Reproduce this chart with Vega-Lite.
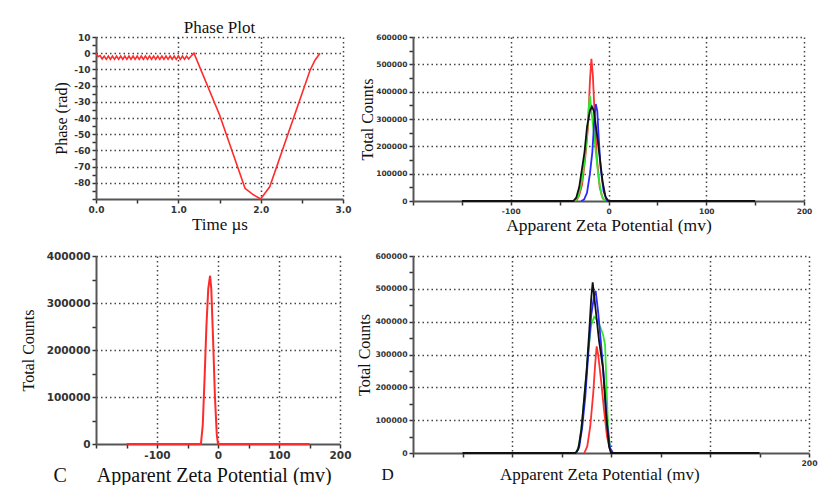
{
  "$schema": "https://vega.github.io/schema/vega-lite/v6.json",
  "background": "white",
  "padding": {"left": 20, "top": 19, "right": 0, "bottom": 0},
  "columns": 2,
  "align": "each",
  "spacing": {"row": 17, "column": 5},
  "datasets": {
    "phase": [
      {"t": 0, "p": 0}, {"t": 0.025, "p": -2.2}, {"t": 0.05, "p": -1.5}, {"t": 0.075, "p": -3.6},
      {"t": 0.1, "p": -1.8}, {"t": 0.125, "p": -3.8}, {"t": 0.15, "p": -1.8}, {"t": 0.175, "p": -3.8},
      {"t": 0.2, "p": -1.8}, {"t": 0.225, "p": -3.8}, {"t": 0.25, "p": -1.8}, {"t": 0.275, "p": -3.8},
      {"t": 0.3, "p": -1.8}, {"t": 0.325, "p": -3.8}, {"t": 0.35, "p": -1.8}, {"t": 0.375, "p": -3.8},
      {"t": 0.4, "p": -1.8}, {"t": 0.425, "p": -3.8}, {"t": 0.45, "p": -1.8}, {"t": 0.475, "p": -3.8},
      {"t": 0.5, "p": -1.8}, {"t": 0.525, "p": -3.8}, {"t": 0.55, "p": -1.8}, {"t": 0.575, "p": -3.8},
      {"t": 0.6, "p": -1.8}, {"t": 0.625, "p": -3.8}, {"t": 0.65, "p": -1.8}, {"t": 0.675, "p": -3.8},
      {"t": 0.7, "p": -1.8}, {"t": 0.725, "p": -3.8}, {"t": 0.75, "p": -1.8}, {"t": 0.775, "p": -3.8},
      {"t": 0.8, "p": -1.8}, {"t": 0.825, "p": -3.8}, {"t": 0.85, "p": -1.8}, {"t": 0.875, "p": -3.8},
      {"t": 0.9, "p": -1.8}, {"t": 0.925, "p": -3.8}, {"t": 0.95, "p": -1.8}, {"t": 0.975, "p": -3.8},
      {"t": 1.0, "p": -1.8}, {"t": 1.025, "p": -3.8}, {"t": 1.05, "p": -1.8}, {"t": 1.075, "p": -3.8},
      {"t": 1.1, "p": -1.8}, {"t": 1.125, "p": -3.6}, {"t": 1.15, "p": -2}, {"t": 1.17, "p": -1},
      {"t": 1.19, "p": 0}, {"t": 1.5, "p": -38}, {"t": 1.81, "p": -83.4}, {"t": 1.9, "p": -87},
      {"t": 2.0, "p": -90}, {"t": 2.11, "p": -82.5}, {"t": 2.6, "p": -10.5}, {"t": 2.66, "p": -4.3},
      {"t": 2.72, "p": 0}
    ],
    "zetaB": [
      {"s": "red", "x": -33, "y": 0}, {"s": "red", "x": -30, "y": 20000}, {"s": "red", "x": -27, "y": 60000},
      {"s": "red", "x": -24, "y": 150000}, {"s": "red", "x": -21, "y": 270000}, {"s": "red", "x": -19, "y": 440000},
      {"s": "red", "x": -17.5, "y": 520000}, {"s": "red", "x": -16, "y": 460000}, {"s": "red", "x": -14, "y": 300000},
      {"s": "red", "x": -12, "y": 160000}, {"s": "red", "x": -9, "y": 50000}, {"s": "red", "x": -6, "y": 10000},
      {"s": "red", "x": -3, "y": 0},
      {"s": "green", "x": -34, "y": 0}, {"s": "green", "x": -31, "y": 15000}, {"s": "green", "x": -28, "y": 60000},
      {"s": "green", "x": -25, "y": 130000}, {"s": "green", "x": -22, "y": 240000}, {"s": "green", "x": -20, "y": 350000},
      {"s": "green", "x": -19, "y": 385000}, {"s": "green", "x": -17.5, "y": 330000}, {"s": "green", "x": -15, "y": 250000},
      {"s": "green", "x": -13, "y": 180000}, {"s": "green", "x": -10, "y": 80000}, {"s": "green", "x": -7, "y": 20000},
      {"s": "green", "x": -4, "y": 0},
      {"s": "blue", "x": -28, "y": 0}, {"s": "blue", "x": -25, "y": 5000}, {"s": "blue", "x": -22, "y": 30000},
      {"s": "blue", "x": -19, "y": 100000}, {"s": "blue", "x": -16.5, "y": 180000}, {"s": "blue", "x": -14.5, "y": 300000},
      {"s": "blue", "x": -13, "y": 355000}, {"s": "blue", "x": -11.5, "y": 330000}, {"s": "blue", "x": -10, "y": 230000},
      {"s": "blue", "x": -8, "y": 120000}, {"s": "blue", "x": -5, "y": 35000}, {"s": "blue", "x": -2, "y": 5000},
      {"s": "blue", "x": 0, "y": 0},
      {"s": "black", "x": -150, "y": 0}, {"s": "black", "x": -36, "y": 0}, {"s": "black", "x": -33, "y": 12000},
      {"s": "black", "x": -30, "y": 50000}, {"s": "black", "x": -27, "y": 120000}, {"s": "black", "x": -24.5, "y": 180000},
      {"s": "black", "x": -22, "y": 270000}, {"s": "black", "x": -19, "y": 330000}, {"s": "black", "x": -17, "y": 345000},
      {"s": "black", "x": -15, "y": 330000}, {"s": "black", "x": -12, "y": 250000}, {"s": "black", "x": -9, "y": 160000},
      {"s": "black", "x": -6, "y": 70000}, {"s": "black", "x": -3, "y": 15000}, {"s": "black", "x": 0, "y": 0},
      {"s": "black", "x": 150, "y": 0}
    ],
    "zetaC": [
      {"x": -150, "y": 0}, {"x": -28, "y": 0}, {"x": -25, "y": 40000}, {"x": -22, "y": 140000},
      {"x": -19, "y": 250000}, {"x": -16, "y": 330000}, {"x": -13, "y": 358000}, {"x": -11, "y": 330000},
      {"x": -8, "y": 220000}, {"x": -5, "y": 100000}, {"x": -2, "y": 20000}, {"x": 0, "y": 0}, {"x": 150, "y": 0}
    ],
    "zetaD": [
      {"s": "red", "x": -27, "y": 0}, {"s": "red", "x": -24, "y": 20000}, {"s": "red", "x": -21, "y": 80000},
      {"s": "red", "x": -18, "y": 180000}, {"s": "red", "x": -16, "y": 270000}, {"s": "red", "x": -14.5, "y": 325000},
      {"s": "red", "x": -13, "y": 300000}, {"s": "red", "x": -10, "y": 220000}, {"s": "red", "x": -7, "y": 130000},
      {"s": "red", "x": -4, "y": 50000}, {"s": "red", "x": -1, "y": 10000}, {"s": "red", "x": 1, "y": 0},
      {"s": "green", "x": -35, "y": 0}, {"s": "green", "x": -32, "y": 30000}, {"s": "green", "x": -29, "y": 100000},
      {"s": "green", "x": -26, "y": 200000}, {"s": "green", "x": -23, "y": 310000}, {"s": "green", "x": -20, "y": 390000},
      {"s": "green", "x": -17, "y": 415000}, {"s": "green", "x": -14, "y": 405000}, {"s": "green", "x": -11, "y": 385000},
      {"s": "green", "x": -8, "y": 360000}, {"s": "green", "x": -6, "y": 330000}, {"s": "green", "x": -4.5, "y": 200000},
      {"s": "green", "x": -3, "y": 80000}, {"s": "green", "x": -1, "y": 15000}, {"s": "green", "x": 1, "y": 0},
      {"s": "blue", "x": -35, "y": 0}, {"s": "blue", "x": -32, "y": 20000}, {"s": "blue", "x": -29, "y": 80000},
      {"s": "blue", "x": -26, "y": 170000}, {"s": "blue", "x": -23, "y": 300000}, {"s": "blue", "x": -20, "y": 420000},
      {"s": "blue", "x": -17, "y": 480000}, {"s": "blue", "x": -15.5, "y": 494000}, {"s": "blue", "x": -13, "y": 430000},
      {"s": "blue", "x": -10, "y": 330000}, {"s": "blue", "x": -7, "y": 220000}, {"s": "blue", "x": -4, "y": 90000},
      {"s": "blue", "x": -1, "y": 15000}, {"s": "blue", "x": 2, "y": 0},
      {"s": "black", "x": -150, "y": 0}, {"s": "black", "x": -36, "y": 0}, {"s": "black", "x": -33, "y": 12000},
      {"s": "black", "x": -30, "y": 70000}, {"s": "black", "x": -27, "y": 170000}, {"s": "black", "x": -24.5, "y": 256000},
      {"s": "black", "x": -22, "y": 370000}, {"s": "black", "x": -20, "y": 470000}, {"s": "black", "x": -18.5, "y": 520000},
      {"s": "black", "x": -16, "y": 450000}, {"s": "black", "x": -12, "y": 340000}, {"s": "black", "x": -8, "y": 256000},
      {"s": "black", "x": -5, "y": 120000}, {"s": "black", "x": -2, "y": 20000}, {"s": "black", "x": 0, "y": 0},
      {"s": "black", "x": 150, "y": 0}
    ]
  },
  "concat": [
    {
      "width": 247,
      "height": 162,
      "title": {"text": "Phase Plot", "font": "Liberation Serif", "fontSize": 17, "fontWeight": "normal", "color": "#111", "offset": -4},
      "data": {"name": "phase"},
      "mark": {"type": "line", "color": "#ff2a2a", "strokeWidth": 1.6},
      "encoding": {
        "x": {
          "field": "t", "type": "quantitative",
          "scale": {"domain": [0, 3], "nice": false, "zero": false},
          "axis": {
            "title": "Time µs", "titleFontSize": 17, "titlePadding": 2,
            "values": [0, 0.5, 1, 1.5, 2, 2.5, 3], "format": ".1f",
            "labelExpr": "datum.value % 1 === 0 ? datum.label : ''",
            "labelFontSize": 9,
            "gridOpacity": {"condition": {"test": "datum.value % 1 !== 0 || datum.value === 0", "value": 0}, "value": 1}
          }
        },
        "y": {
          "field": "p", "type": "quantitative",
          "scale": {"domain": [-90, 10], "nice": false, "zero": false},
          "axis": {
            "title": "Phase (rad)", "titleFontSize": 16, "titlePadding": 4,
            "values": [-90, -85, -80, -75, -70, -65, -60, -55, -50, -45, -40, -35, -30, -25, -20, -15, -10, -5, 0, 5, 10],
            "labelExpr": "datum.value % 10 === 0 && datum.value > -90 ? replace(datum.label, '\u2212', '-') : ''",
            "labelFontSize": 9,
            "gridOpacity": {"condition": {"test": "datum.value % 10 !== 0 || datum.value === -90", "value": 0}, "value": 1}
          }
        }
      }
    },
    {
      "width": 391,
      "height": 164,
      "data": {"name": "zetaB"},
      "mark": {"type": "line", "strokeWidth": 1.8},
      "encoding": {
        "x": {
          "field": "x", "type": "quantitative",
          "scale": {"domain": [-200, 200], "nice": false},
          "axis": {
            "title": "Apparent Zeta Potential (mv)", "titleFontSize": 17.5, "titlePadding": 2,
            "values": [-200, -150, -100, -50, 0, 50, 100, 150, 200],
            "labelExpr": "datum.value % 100 === 0 && datum.value > -200 ? replace(datum.label, '\u2212', '-') : ''",
            "labelFontSize": 7.5,
            "gridOpacity": {"condition": {"test": "datum.value % 100 !== 0 || datum.value === -200", "value": 0}, "value": 1}
          }
        },
        "y": {
          "field": "y", "type": "quantitative",
          "scale": {"domain": [0, 600000], "nice": false},
          "axis": {
            "title": "Total Counts", "titleFontSize": 16, "titlePadding": 0,
            "values": [0, 50000, 100000, 150000, 200000, 250000, 300000, 350000, 400000, 450000, 500000, 550000, 600000],
            "format": "d",
            "labelExpr": "datum.value % 100000 === 0 ? datum.label : ''",
            "labelFontSize": 7.5,
            "gridOpacity": {"condition": {"test": "datum.value % 100000 !== 0 || datum.value === 0", "value": 0}, "value": 1}
          }
        },
        "color": {
          "field": "s", "type": "nominal", "legend": null,
          "scale": {"domain": ["red", "green", "blue", "black"], "range": ["#ff3030", "#30e830", "#2a2aff", "#111111"]}
        }
      }
    },
    {
      "width": 244,
      "height": 188,
      "data": {"name": "zetaC"},
      "mark": {"type": "line", "color": "#ff2a2a", "strokeWidth": 2},
      "encoding": {
        "x": {
          "field": "x", "type": "quantitative",
          "scale": {"domain": [-200, 200], "nice": false},
          "axis": {
            "title": "C\u00a0\u00a0\u00a0\u00a0\u00a0\u00a0Apparent Zeta Potential (mv)", "titleFontSize": 20, "titlePadding": 5,
            "titleX": -43, "titleAlign": "left",
            "values": [-200, -150, -100, -50, 0, 50, 100, 150, 200],
            "labelExpr": "datum.value % 100 === 0 && datum.value > -200 ? replace(datum.label, '\u2212', '-') : ''",
            "labelFontSize": 10.5,
            "gridOpacity": {"condition": {"test": "datum.value % 100 !== 0 || datum.value === -200", "value": 0}, "value": 1}
          }
        },
        "y": {
          "field": "y", "type": "quantitative",
          "scale": {"domain": [0, 400000], "nice": false},
          "axis": {
            "title": "Total Counts", "titleFontSize": 16, "titlePadding": 10,
            "values": [0, 50000, 100000, 150000, 200000, 250000, 300000, 350000, 400000],
            "format": "d",
            "labelExpr": "datum.value % 100000 === 0 ? datum.label : ''",
            "labelFontSize": 10.5,
            "gridOpacity": {"condition": {"test": "datum.value % 100000 !== 0 || datum.value === 0", "value": 0}, "value": 1}
          }
        }
      }
    },
    {
      "width": 396,
      "height": 197,
      "data": {"name": "zetaD"},
      "mark": {"type": "line", "strokeWidth": 1.8},
      "encoding": {
        "x": {
          "field": "x", "type": "quantitative",
          "scale": {"domain": [-200, 200], "nice": false},
          "axis": {
            "title": "D\u00a0\u00a0\u00a0\u00a0\u00a0\u00a0\u00a0\u00a0\u00a0\u00a0\u00a0\u00a0\u00a0\u00a0\u00a0\u00a0\u00a0\u00a0\u00a0\u00a0\u00a0\u00a0\u00a0\u00a0\u00a0Apparent Zeta Potential (mv)", "titleFontSize": 17, "titlePadding": 0,
            "titleX": -32, "titleAlign": "left",
            "values": [-200, -150, -100, -50, 0, 50, 100, 150, 200],
            "labelExpr": "datum.value === 200 ? datum.label : ''",
            "labelFontSize": 7.7,
            "gridOpacity": {"condition": {"test": "datum.value % 100 !== 0 || datum.value === -200", "value": 0}, "value": 1}
          }
        },
        "y": {
          "field": "y", "type": "quantitative",
          "scale": {"domain": [0, 600000], "nice": false},
          "axis": {
            "title": "Total Counts", "titleFontSize": 16, "titlePadding": 2,
            "values": [0, 50000, 100000, 150000, 200000, 250000, 300000, 350000, 400000, 450000, 500000, 550000, 600000],
            "format": "d",
            "labelExpr": "datum.value % 100000 === 0 ? datum.label : ''",
            "labelFontSize": 7.7,
            "gridOpacity": {"condition": {"test": "datum.value % 100000 !== 0 || datum.value === 0", "value": 0}, "value": 1}
          }
        },
        "color": {
          "field": "s", "type": "nominal", "legend": null,
          "scale": {"domain": ["red", "green", "blue", "black"], "range": ["#ff3030", "#30e830", "#2a2aff", "#111111"]}
        }
      }
    }
  ],
  "config": {
    "view": {"stroke": null},
    "axis": {
      "labelFont": "DejaVu Sans", "labelFontWeight": "bold", "labelColor": "#333", "labelFlush": false, "labelPadding": 2,
      "domainColor": "#555", "domainWidth": 2,
      "tickColor": "#333", "tickWidth": 1.5, "tickSize": 4,
      "grid": true, "gridColor": "#444", "gridDash": [1.5, 3], "gridWidth": 1.5,
      "titleFont": "Liberation Serif", "titleFontWeight": "normal", "titleColor": "#111"
    }
  }
}
